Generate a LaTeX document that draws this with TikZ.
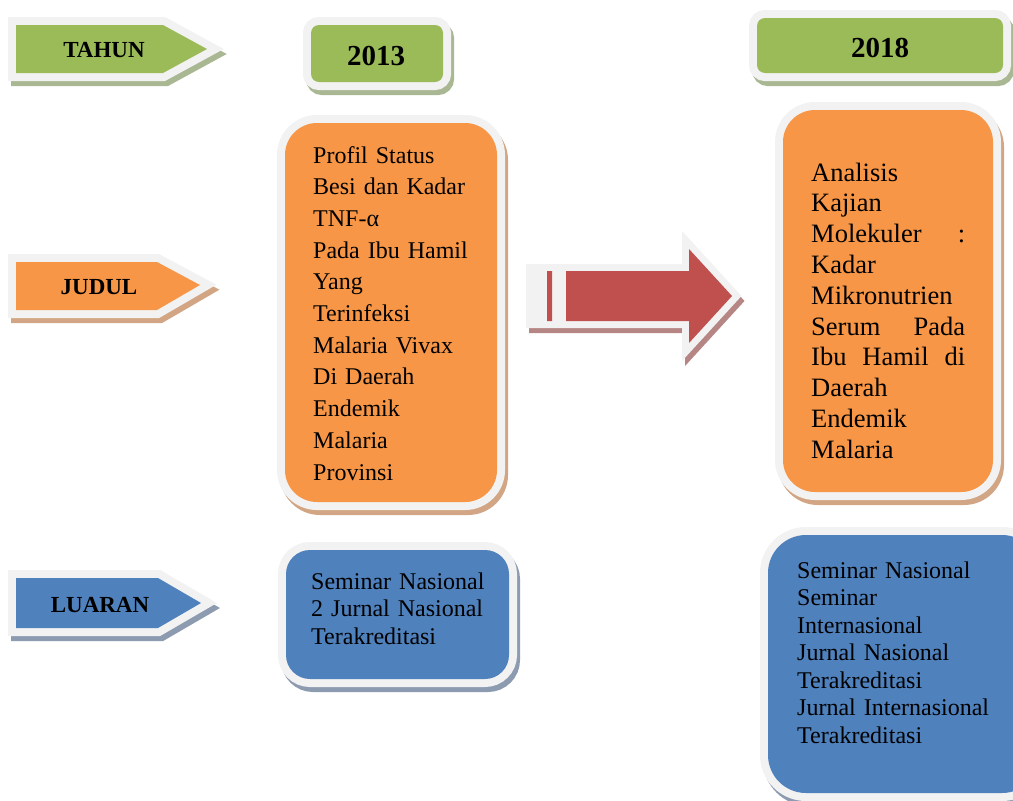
\documentclass[tikz,border=0pt]{standalone}
\usepackage{fontspec}
\setmainfont{Liberation Serif}
\definecolor{rimgray}{HTML}{F2F2F2}
\definecolor{cgreen}{HTML}{9BBB59}
\definecolor{sgreen}{HTML}{A9B893}
\definecolor{corange}{HTML}{F79646}
\definecolor{sorange}{HTML}{D2A684}
\definecolor{cblue}{HTML}{4F81BD}
\definecolor{sblue}{HTML}{8D9BB0}
\definecolor{cred}{HTML}{C0504D}
\definecolor{sred}{HTML}{B68684}
\newcommand\layeredshape[3]{%
  \path[shadowpath=#1] #3;
  \path[rimpath] #3;
  \path[fill=#2] #3;
}
\begin{document}
\begin{tikzpicture}[x=1pt,y=-1pt,
  shadowpath/.style={fill=#1, draw=#1, line width=16pt, line join=miter, shift={(3,5)}},
  rimpath/.style={fill=rimgray, draw=rimgray, line width=16pt, line join=miter},
  taglabel/.style={font=\fontsize{23}{27}\selectfont\bfseries, anchor=base, inner sep=0pt},
  yearlabel/.style={font=\fontsize{29}{34}\selectfont\bfseries, anchor=base, inner sep=0pt},
  bodytext/.style={anchor=base west, inner sep=0pt, text width=#1, align=left}
]
\useasboundingbox (0,0) rectangle (1013,801);
\clip (0,0) rectangle (1013,801);

% left tags
\layeredshape{sgreen}{cgreen}{(16,25) -- (163,25) -- (207,49) -- (163,73) -- (16,73) -- cycle}
\layeredshape{sorange}{corange}{(16,262) -- (157,262) -- (200,285) -- (157,310) -- (16,310) -- cycle}
\layeredshape{sblue}{cblue}{(16,578) -- (158,578) -- (201,603) -- (158,628) -- (16,628) -- cycle}

% year boxes
\layeredshape{sgreen}{cgreen}{[rounded corners=8pt] (311,25) rectangle (443,82)}
\layeredshape{sgreen}{cgreen}{[rounded corners=8pt] (757,18) rectangle (1003,73)}

% title boxes
\layeredshape{sorange}{corange}{[rounded corners=32pt] (285,123) rectangle (497,502)}
\layeredshape{sorange}{corange}{[rounded corners=32pt] (783,110) rectangle (993,492)}

% output boxes
\layeredshape{sblue}{cblue}{[rounded corners=24pt] (286,550) rectangle (509,679)}
\layeredshape{sblue}{cblue}{[rounded corners=38pt] (768,535) rectangle (1040,793)}

% big striped arrow
\path[fill=sred, draw=sred, line width=14pt, line join=miter, shift={(3,5)}]
  (566,271) -- (689,271) -- (689,249) -- (732,296) -- (689,343) -- (689,321) -- (566,321) -- cycle
  (547,271) rectangle (552,321) (533,271) rectangle (538,321);
\path[fill=rimgray, draw=rimgray, line width=14pt, line join=miter]
  (566,271) -- (689,271) -- (689,249) -- (732,296) -- (689,343) -- (689,321) -- (566,321) -- cycle
  (547,271) rectangle (552,321) (533,271) rectangle (538,321);
\path[fill=cred]
  (566,271) -- (689,271) -- (689,249) -- (732,296) -- (689,343) -- (689,321) -- (566,321) -- cycle
  (547,271) rectangle (552,321);

% labels
\node[taglabel] (tahun) at (104,57) {TAHUN};
\node[taglabel] (judul) at (99,294) {JUDUL};
\node[taglabel] (luaran) at (100,612) {LUARAN};
\node[yearlabel] (y2013) at (376,65) {2013};
\node[yearlabel] (y2018) at (880,57) {2018};

\node[bodytext=180pt, font=\fontsize{24}{31.7}\selectfont] (judul2013) at (313,163)
  {Profil Status\\Besi dan Kadar\\TNF-α\\Pada Ibu Hamil\\Yang\\Terinfeksi\\Malaria Vivax\\Di Daerah\\Endemik\\Malaria\\Provinsi};
\node[bodytext=154pt, font=\fontsize{26.5}{30.8}\selectfont] (judul2018) at (811,181)
  {Analisis\\Kajian\\Molekuler\hfill:\\Kadar\\Mikronutrien\\Serum\hfill Pada\\Ibu\hfill Hamil\hfill di\\Daerah\\Endemik\\Malaria};
\node[bodytext=220pt, font=\fontsize{24}{27.5}\selectfont] (luaran2013) at (311,589)
  {Seminar Nasional\\2 Jurnal Nasional\\Terakreditasi};
\node[bodytext=220pt, font=\fontsize{24}{27.5}\selectfont] (luaran2018) at (797,578)
  {Seminar Nasional\\Seminar\\Internasional\\Jurnal Nasional\\Terakreditasi\\Jurnal Internasional\\Terakreditasi};
\end{tikzpicture}
\end{document}
